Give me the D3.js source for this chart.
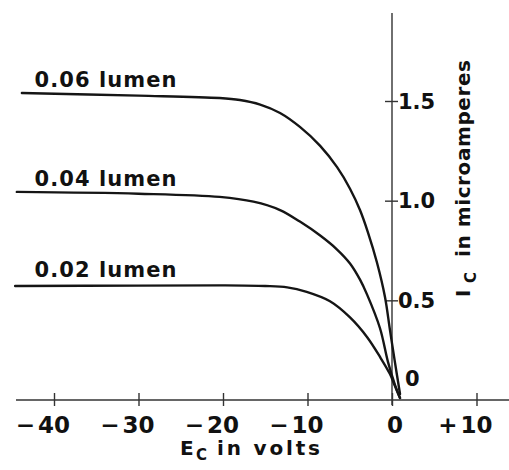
<!DOCTYPE html>
<html><head><meta charset="utf-8">
<script src="https://cdn.jsdelivr.net/npm/d3@7"></script>
<style>
html,body{margin:0;padding:0;background:#fff;}
text{font-family:"DejaVu Sans",sans-serif;font-weight:bold;fill:#111;}
</style></head>
<body><svg id="c" width="509" height="470"></svg>
<script>
// ---- data ----
const xTicks = [-40, -30, -20, -10, 0, 10];
const xTickLabels = ["\u221240", "\u221230", "\u221220", "\u221210", "0", "+10"];
const yTicks = [0, 0.5, 1.0, 1.5];
const yTickLabels = ["0", "0.5", "1.0", "1.5"];
const seriesNames = ["0.06 lumen", "0.04 lumen", "0.02 lumen"];
const volts06 = [-43.8, -30, -20.4, -18, -15.6, -13.25, -10.9, -8.5, -6.5, -4.97, -3.79, -2.84, -1.78, -0.83, -0.24, 0.36, 0.95];
const amps06  = [1.54, 1.527, 1.515, 1.505, 1.482, 1.44, 1.37, 1.275, 1.168, 1.06, 0.953, 0.84, 0.69, 0.517, 0.351, 0.186, 0.03];
const volts04 = [-44.4, -30, -20.4, -16.4, -13.25, -10.9, -8.5, -6.5, -4.97, -3.8, -2.96, -1.42, -0.47, 0.36, 0.95];
const amps04  = [1.044, 1.035, 1.019, 0.995, 0.953, 0.895, 0.825, 0.755, 0.685, 0.605, 0.53, 0.36, 0.19, 0.075, 0.01];
const volts02 = [-44.6, -30, -20.4, -15, -12.4, -10.1, -7.34, -4.97, -2.96, -1.42, -0.24, 0.35, 0.95];
const amps02  = [0.572, 0.574, 0.575, 0.572, 0.565, 0.542, 0.495, 0.414, 0.316, 0.216, 0.13, 0.07, 0.01];

const seriesVolts = [volts06, volts04, volts02];
const seriesAmps = [amps06, amps04, amps02];

// ---- scales ----
const x = d3.scaleLinear().domain([-40, 0]).range([54, 392]);
const y = d3.scaleLinear().domain([0, 1.5]).range([400, 101]);

const svg = d3.select("#c");
const ink = "#151515";

// axis lines
svg.append("line").attr("x1", x(-44.5)).attr("x2", 509).attr("y1", y(0)).attr("y2", y(0))
  .attr("stroke", "#333").attr("stroke-width", 1.4);
svg.append("line").attr("x1", x(0)).attr("x2", x(0)).attr("y1", 13).attr("y2", y(0) + 5)
  .attr("stroke", "#333").attr("stroke-width", 1.4);

// x axis ticks (crosses)
const gx = svg.append("g").attr("transform", `translate(0,${y(0)})`)
  .call(d3.axisBottom(x).tickValues(xTicks).tickSize(7).tickFormat(""));
gx.select(".domain").remove();
gx.selectAll(".tick line").attr("y1", -7).attr("y2", 6).attr("stroke", "#333").attr("stroke-width", 1.4);

// x tick labels: digits centred on tick, sign hanging left
xTicks.forEach((v, i) => {
  const lab = xTickLabels[i];
  const sign = /^[\u2212+]/.test(lab) ? lab[0] : "";
  const digits = sign ? lab.slice(1) : lab;
  const t = svg.append("text").attr("x", x(v) + (v === 0 ? 3 : 0)).attr("y", y(0) + 33)
    .attr("text-anchor", "middle").attr("font-size", 23).text(digits);
  if (sign) {
    const w = t.node().getComputedTextLength();
    svg.append("text").attr("x", x(v) - w / 2 - 3).attr("y", y(0) + 33)
      .attr("text-anchor", "end").attr("font-size", 23).text(sign);
  }
});

// y axis ticks (crosses)
const gy = svg.append("g").attr("transform", `translate(${x(0)},0)`)
  .call(d3.axisLeft(y).tickValues(yTicks.filter(d => d > 0)).tickSize(7).tickFormat(""));
gy.select(".domain").remove();
gy.selectAll(".tick line").attr("x1", -7).attr("x2", 6).attr("stroke", "#333").attr("stroke-width", 1.4);

yTicks.forEach((v, i) => {
  svg.append("text").attr("x", x(0) + (v === 0 ? 13 : 6))
    .attr("y", y(v) + (v === 0 ? -22 : 0)).attr("dy", "0.36em")
    .attr("font-size", 21).text(yTickLabels[i]);
});

// curves
const line = d3.line().x(d => x(d[0])).y(d => y(d[1])).curve(d3.curveCatmullRom.alpha(0.5));
seriesVolts.forEach((vs, s) => {
  const pts = vs.map((v, i) => [v, seriesAmps[s][i]]);
  svg.append("path").attr("d", line(pts)).attr("fill", "none")
    .attr("stroke", ink).attr("stroke-width", 2.4).attr("stroke-linecap", "round");
  svg.append("text").attr("x", x(-42.3)).attr("y", y(seriesAmps[s][0]) - (s === 2 ? 9 : 6))
    .attr("font-size", 21).attr("textLength", 142).attr("lengthAdjust", "spacing")
    .text(seriesNames[s]);
});

// x axis title
const xt = svg.append("g");
xt.append("text").attr("x", 180).attr("y", 455).attr("font-size", 20).text("E");
xt.append("text").attr("x", 196).attr("y", 460).attr("font-size", 15).text("C");
xt.append("text").attr("x", 217).attr("y", 455).attr("font-size", 20)
  .attr("textLength", 103).attr("lengthAdjust", "spacing").text("in volts");

// y axis title
const yt = svg.append("g").attr("transform", "translate(470,297) rotate(-90)");
yt.append("text").attr("x", 0).attr("y", 0).attr("font-size", 20).text("I");
yt.append("text").attr("x", 14).attr("y", 6).attr("font-size", 15).text("C");
yt.append("text").attr("x", 40).attr("y", 0).attr("font-size", 20)
  .attr("textLength", 197).attr("lengthAdjust", "spacing").text("in microamperes");
</script></body></html>
